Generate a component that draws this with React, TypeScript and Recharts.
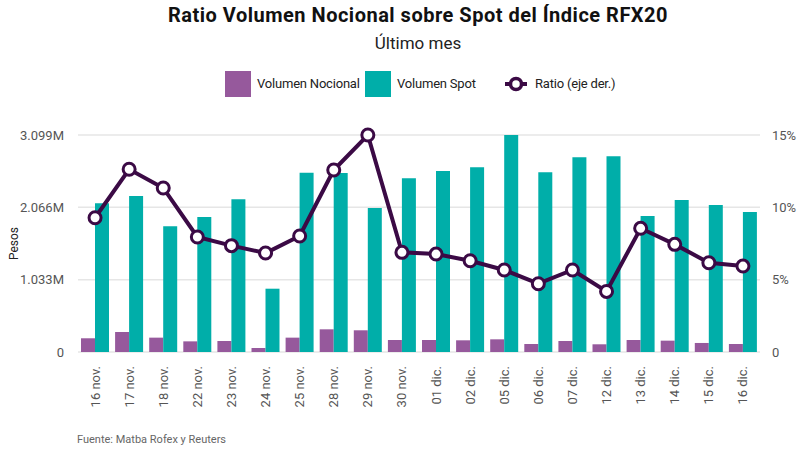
import React from "react";
import {
  ComposedChart,
  Bar,
  Line,
  XAxis,
  YAxis,
  CartesianGrid,
} from "recharts";

const categories = [
  "16 nov.", "17 nov.", "18 nov.", "22 nov.", "23 nov.", "24 nov.", "25 nov.",
  "28 nov.", "29 nov.", "30 nov.", "01 dic.", "02 dic.", "05 dic.", "06 dic.",
  "07 dic.", "12 dic.", "13 dic.", "14 dic.", "15 dic.", "16 dic.",
];

// millones de pesos
const volumenNocional = [
  0.196, 0.286, 0.205, 0.152, 0.157, 0.057, 0.205, 0.324, 0.31, 0.171,
  0.171, 0.167, 0.181, 0.114, 0.157, 0.11, 0.171, 0.162, 0.129, 0.114,
];

const volumenSpot = [
  2.124, 2.228, 1.795, 1.928, 2.181, 0.904, 2.561, 2.556, 2.057, 2.481,
  2.585, 2.638, 3.099, 2.566, 2.78, 2.795, 1.942, 2.171, 2.099, 2.0,
];

// porcentaje
const ratio = [
  9.28, 12.63, 11.34, 7.95, 7.35, 6.84, 8.02, 12.58, 15.0, 6.89,
  6.77, 6.31, 5.67, 4.72, 5.67, 4.19, 8.55, 7.44, 6.17, 5.94,
];

const leftTicks = [0, 1.033, 2.066, 3.099];
const rightTicks = [0, 5, 10, 15];

const PURPLE = "#96599c";
const TEAL = "#00aea9";
const DARK = "#3b0a45";
const FONT = "Roboto, sans-serif";

const data = categories.map((c, i) => ({
  fecha: c,
  nocional: volumenNocional[i],
  spot: volumenSpot[i],
  ratio: ratio[i],
}));

const XTick = (props: any) => {
  const { x, y, payload } = props;
  return (
    <text
      x={x}
      y={y}
      transform={`rotate(-90 ${x} ${y})`}
      textAnchor="end"
      dy="0.35em"
      fontSize={13}
      fill="#555"
      fontFamily={FONT}
    >
      {payload.value}
    </text>
  );
};

const abs = (left: number, top: number, extra: React.CSSProperties = {}): React.CSSProperties => ({
  position: "absolute",
  left,
  top,
  ...extra,
});

export default function App() {
  return (
    <div style={{ position: "relative", width: 800, height: 457, fontFamily: FONT }}>
      <style>{"body{margin:0}"}</style>
      <div
        style={{
          position: "absolute",
          top: 3,
          left: 18,
          width: 800,
          textAlign: "center",
          fontSize: 20,
          fontWeight: 700,
          color: "#111",
          letterSpacing: 0.5,
        }}
      >
        Ratio Volumen Nocional sobre Spot del Índice RFX20
      </div>
      <div
        style={{
          position: "absolute",
          top: 33,
          left: 18,
          width: 800,
          textAlign: "center",
          fontSize: 17,
          color: "#222",
        }}
      >
        Último mes
      </div>

      {/* leyenda */}
      <div style={abs(225, 71, { width: 26, height: 26, background: PURPLE })} />
      <div style={abs(257, 76, { fontSize: 13, color: "#222", letterSpacing: -0.2 })}>
        Volumen Nocional
      </div>
      <div style={abs(365, 71, { width: 26, height: 26, background: TEAL })} />
      <div style={abs(397, 76, { fontSize: 13, color: "#222", letterSpacing: -0.2 })}>
        Volumen Spot
      </div>
      <svg style={abs(505, 76)} width={22} height={16}>
        <line x1={0} y1={8} x2={22} y2={8} stroke={DARK} strokeWidth={4} />
        <circle cx={11} cy={8} r={5.5} fill="#fff" stroke={DARK} strokeWidth={3.5} />
      </svg>
      <div style={abs(535, 76, { fontSize: 13, color: "#222", letterSpacing: -0.2 })}>
        Ratio (eje der.)
      </div>

      <ComposedChart
        width={800}
        height={457}
        data={data}
        margin={{ top: 135, right: 0, bottom: 35, left: 0 }}
        barCategoryGap={3}
        barGap={0}
      >
        <CartesianGrid vertical={false} stroke="#e6e6e6" strokeWidth={1.5} yAxisId="left" />
        <XAxis
          dataKey="fecha"
          interval={0}
          tick={<XTick />}
          tickLine={false}
          axisLine={false}
          height={70}
          tickMargin={8}
        />
        <YAxis
          yAxisId="left"
          width={78}
          domain={[0, 3.099]}
          ticks={leftTicks}
          tickFormatter={(v: number) => (v === 0 ? "0" : `${v.toFixed(3)}M`)}
          axisLine={false}
          tickLine={false}
          tick={{ fontSize: 13, fill: "#555", fontFamily: FONT }}
          tickMargin={8}
          label={{
            value: "Pesos",
            angle: -90,
            position: "insideLeft",
            offset: 14,
            style: { fontSize: 12, fill: "#222", fontFamily: FONT, textAnchor: "middle" },
          }}
        />
        <YAxis
          yAxisId="right"
          orientation="right"
          width={40}
          domain={[0, 15]}
          ticks={rightTicks}
          tickFormatter={(v: number) => (v === 0 ? "0" : `${v}%`)}
          axisLine={false}
          tickLine={false}
          tick={{ fontSize: 13, fill: "#555", fontFamily: FONT }}
          tickMargin={6}
        />
        <Bar yAxisId="left" dataKey="nocional" fill={PURPLE} isAnimationActive={false} />
        <Bar yAxisId="left" dataKey="spot" fill={TEAL} isAnimationActive={false} />
        <Line
          yAxisId="right"
          dataKey="ratio"
          stroke={DARK}
          strokeWidth={4}
          dot={{ r: 6, fill: "#fff", stroke: DARK, strokeWidth: 3 }}
          activeDot={false}
          isAnimationActive={false}
        />
      </ComposedChart>

      <div
        style={{
          position: "absolute",
          top: 433,
          left: 77,
          fontSize: 11,
          color: "#666",
        }}
      >
        Fuente: Matba Rofex y Reuters
      </div>
    </div>
  );
}
